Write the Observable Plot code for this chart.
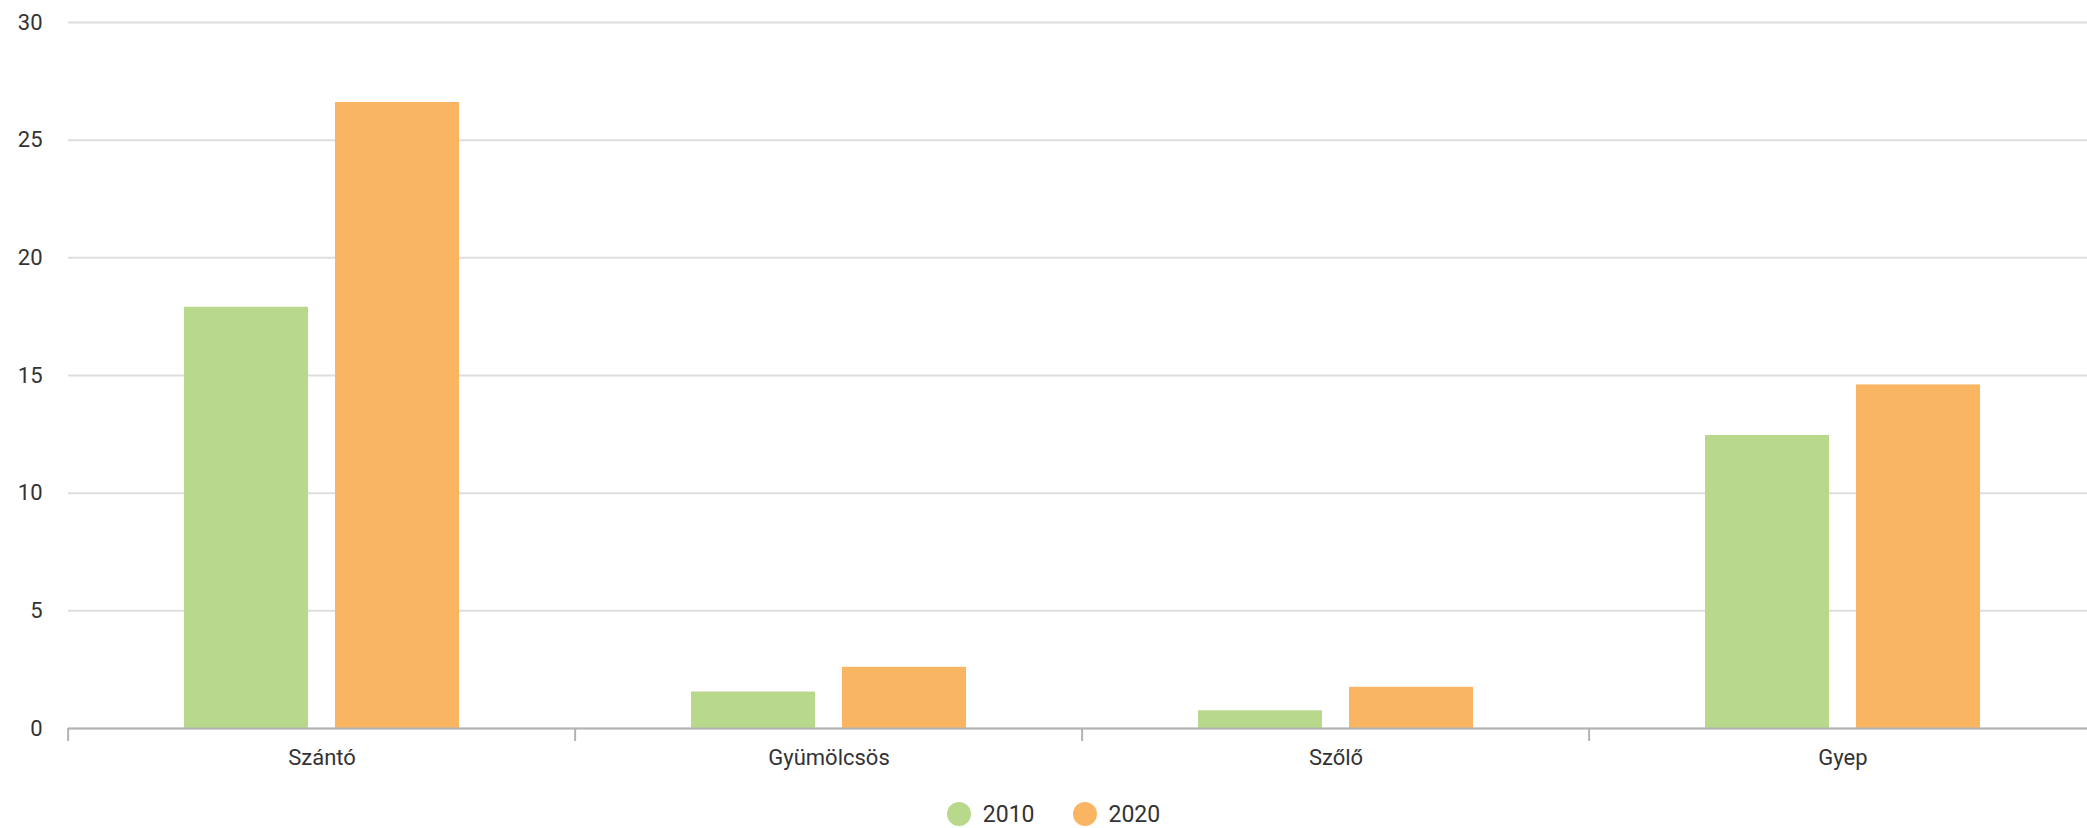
<!DOCTYPE html>
<html><head><meta charset="utf-8">
<script src="https://cdn.jsdelivr.net/npm/d3@7"></script>
<script src="https://cdn.jsdelivr.net/npm/@observablehq/plot@0.6"></script>
<style>
html,body{margin:0;padding:0;background:#fff;overflow:hidden;}
#legend{display:flex;justify-content:center;align-items:center;height:24px;margin-top:12px;font-family:Roboto,sans-serif;font-size:23px;color:#333;padding-left:20px}
.item{display:flex;align-items:center;margin:0 19px}
.sw{width:24px;height:24px;border-radius:50%;margin-right:12px}
</style></head><body><div id="chart"></div><div id="legend"></div>
<script>
const categories = ["Szántó", "Gyümölcsös", "Szőlő", "Gyep"];
const years = ["2010", "2020"];
const values2010 = [17.9, 1.55, 0.75, 12.45];
const values2020 = [26.6, 2.6, 1.75, 14.6];
const colors = ["#b8d88b", "#fab563"];
const yTicks = [0, 5, 10, 15, 20, 25, 30];

const data = [];
categories.forEach((c, i) => {
  data.push({cat: c, year: years[0], value: values2010[i]});
  data.push({cat: c, year: years[1], value: values2020[i]});
});

const W = 2087, H = 790, ML = 66, MR = -10, MT = 22, MB = 62;
const band = (W - ML - MR) / categories.length;

const plot = Plot.plot({
  width: W, height: H,
  marginLeft: ML, marginRight: MR, marginTop: MT, marginBottom: MB,
  style: {fontFamily: "Roboto, sans-serif", fontSize: "22px", color: "#333", background: "white", overflow: "visible"},
  fx: {domain: categories, padding: 0, axis: null},
  x: {domain: years, paddingInner: 0.1815, paddingOuter: 0.767, axis: null},
  y: {domain: [0, 30], axis: null},
  color: {type: "ordinal", domain: years, range: colors},
  marks: [
    Plot.gridY(yTicks, {stroke: "#dedede", strokeOpacity: 1, strokeWidth: 2}),
    Plot.axisY(yTicks, {tickSize: 0, tickPadding: 26, label: null, fontSize: 22}),
    Plot.barY(data, {fx: "cat", x: "year", y: "value", fill: "year"}),
    Plot.ruleY([0], {stroke: "#b3b3b3", strokeWidth: 2}),
    Plot.axisFx({anchor: "bottom", tickSize: 13, tickFormat: () => "", dx: -band / 2, stroke: "#b3b3b3", strokeWidth: 2, label: null}),
    Plot.axisFx({anchor: "bottom", tickSize: 0, tickPadding: 21, label: null, fontSize: 22})
  ]
});
document.getElementById("chart").appendChild(plot);

const leg = document.getElementById("legend");
years.forEach((y, i) => {
  const it = document.createElement("div");
  it.className = "item";
  it.innerHTML = `<span class="sw" style="background:${colors[i]}"></span><span>${y}</span>`;
  leg.appendChild(it);
});
</script></body></html>
